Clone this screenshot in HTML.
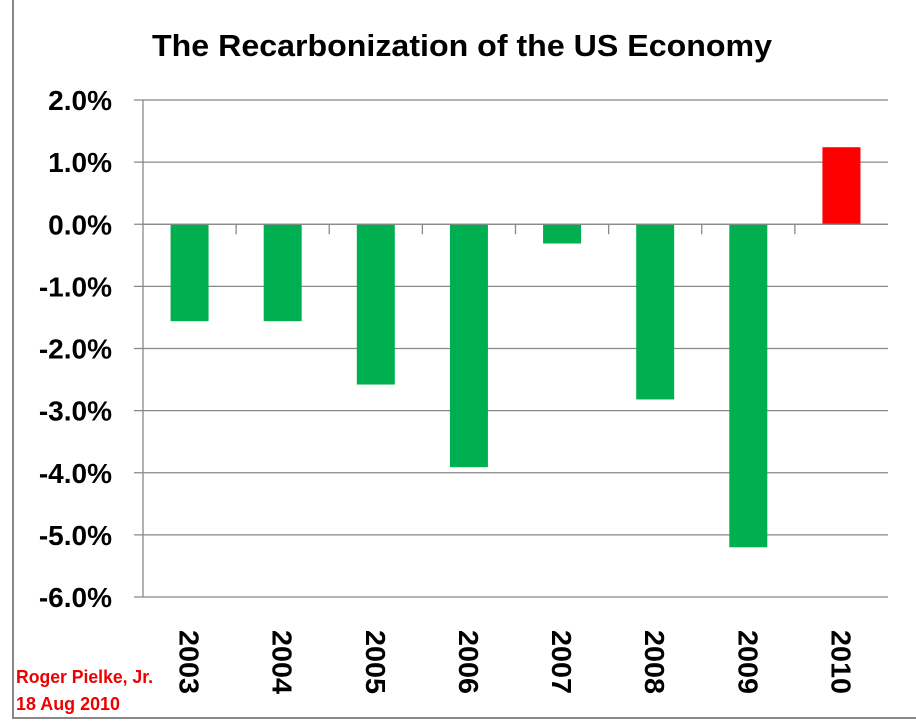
<!DOCTYPE html>
<html><head><meta charset="utf-8"><style>
body{margin:0;background:#fff;width:916px;height:724px;overflow:hidden}
svg{display:block;font-family:"Liberation Sans",sans-serif}
</style></head><body>
<svg id="c" width="916" height="724">
<rect x="13" y="-2" width="904" height="720" fill="#fff" stroke="#888" stroke-width="2"/>
<text x="462" y="56" text-anchor="middle" font-size="31" font-weight="bold" fill="#000" textLength="620" lengthAdjust="spacingAndGlyphs">The Recarbonization of the US Economy</text>
<g id="grid"></g><g id="bars"></g><g id="axes"></g>
<text x="16" y="683" font-size="18" font-weight="bold" fill="#e00" textLength="137" lengthAdjust="spacingAndGlyphs">Roger Pielke, Jr.</text>
<text x="16" y="710" font-size="18" font-weight="bold" fill="#e00" textLength="104" lengthAdjust="spacingAndGlyphs">18 Aug 2010</text>
</svg>
<script>
const categories=["2003","2004","2005","2006","2007","2008","2009","2010"];
const values=[-1.56,-1.56,-2.58,-3.91,-0.31,-2.82,-5.2,1.24];
const ticks=[2,1,0,-1,-2,-3,-4,-5,-6];
const tickLabels=["2.0%","1.0%","0.0%","-1.0%","-2.0%","-3.0%","-4.0%","-5.0%","-6.0%"];
const NS="http://www.w3.org/2000/svg";
const L=143,R=888,T=100,B=597,vmax=2,vmin=-6;
const y=v=>T+(vmax-v)/(vmax-vmin)*(B-T);
const cw=(R-L)/categories.length;
const x=i=>L+cw*i;
function mk(t,a,p){const e=document.createElementNS(NS,t);for(const k in a)e.setAttribute(k,a[k]);p.appendChild(e);return e;}
const g=document.getElementById('grid'),b=document.getElementById('bars'),ax=document.getElementById('axes');
ticks.forEach((t,i)=>{
 const ln=mk('line',{x1:134,x2:R,y1:y(t),y2:y(t),stroke:'#888','stroke-width':1.3},g);
 
 
 const tx=mk('text',{x:112,y:y(t)+10,'text-anchor':'end','font-size':28,'font-weight':'bold'},ax);
 tx.textContent=tickLabels[i];
 
 
});
values.forEach((v,i)=>{
 const bw=38,cx=x(i)+cw/2;
 const r=mk('rect',{x:cx-bw/2,y:Math.min(y(v),y(0)),width:bw,height:Math.abs(y(v)-y(0)),fill:v<0?'#00b050':'#ff0000'},b);
 
 
 const t=mk('text',{x:0,y:0,transform:`translate(${cx-10},630) rotate(90)`,'font-size':28,'font-weight':'bold',textLength:64,lengthAdjust:'spacingAndGlyphs'},ax);
 t.textContent=categories[i];
 
 
});
for(let i=1;i<categories.length;i++){
 const tk=mk('line',{x1:x(i),x2:x(i),y1:y(0),y2:y(0)+10,stroke:'#888','stroke-width':1.3},ax);
 
 
}
const ya=mk('line',{x1:L,x2:L,y1:T,y2:B,stroke:'#888','stroke-width':1.3},ax);


const xa=mk('line',{x1:L,x2:R,y1:y(0),y2:y(0),stroke:'#888','stroke-width':1.3},ax);


</script>
</body></html>
